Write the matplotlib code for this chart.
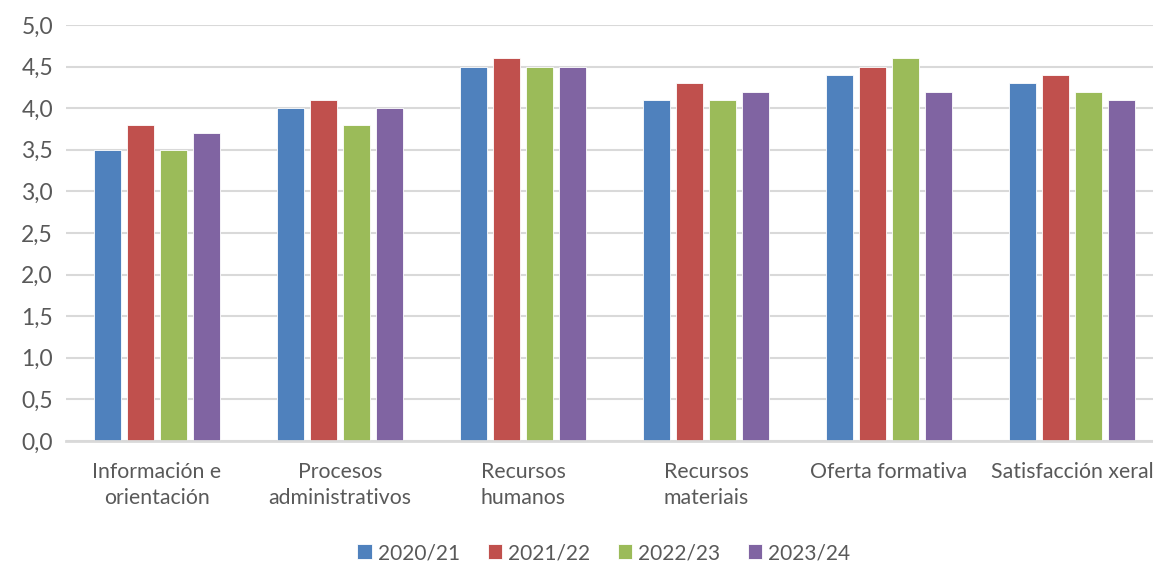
import matplotlib
matplotlib.use("Agg")
import matplotlib.pyplot as plt
import numpy as np

categories = ["Información e\norientación", "Procesos\nadministrativos", "Recursos\nhumanos",
              "Recursos\nmateriais", "Oferta formativa", "Satisfacción xeral"]
series = ["2020/21", "2021/22", "2022/23", "2023/24"]
values = {
    "2020/21": [3.5, 4.0, 4.5, 4.1, 4.4, 4.3],
    "2021/22": [3.8, 4.1, 4.6, 4.3, 4.5, 4.4],
    "2022/23": [3.5, 3.8, 4.5, 4.1, 4.6, 4.2],
    "2023/24": [3.7, 4.0, 4.5, 4.2, 4.2, 4.1],
}
colors = ["#4F81BD", "#C0504D", "#9BBB59", "#8064A2"]
yticks = [0.0, 0.5, 1.0, 1.5, 2.0, 2.5, 3.0, 3.5, 4.0, 4.5, 5.0]

plt.rcParams['font.family'] = ['Lato', 'DejaVu Sans']
txt = "#595959"

fig = plt.figure(figsize=(11.53, 5.64), dpi=100)
W, H = 1153, 564
left, right, top, bottom = 65.5, 1163.5, 25, 441
ax = fig.add_axes([left / W, 1 - bottom / H, (right - left) / W, (bottom - top) / H])

x = np.arange(len(categories))
pitch = 33 / 183
bw = 27 / 183
for i, s in enumerate(series):
    ax.bar(x + (i - 1.5) * pitch, values[s], width=bw, color=colors[i],
           edgecolor="white", linewidth=0.6, label=s, zorder=3)

ax.set_xlim(-0.5, len(categories) - 0.5)
ax.set_ylim(0, 5)
ax.set_yticks(yticks)
ax.set_yticklabels([f"{v:.1f}".replace(".", ",") for v in yticks], fontsize=16.5)
ax.set_xticks(x)
ax.set_xticklabels(categories, linespacing=1.4, fontsize=15.3)
ax.yaxis.grid(True, color="#D9D9D9", linewidth=1.5, zorder=0)
for sp in ["top", "right", "left"]:
    ax.spines[sp].set_visible(False)
ax.spines["bottom"].set_color("#D9D9D9")
ax.spines["bottom"].set_linewidth(2)
ax.spines["bottom"].set_zorder(4)
ax.tick_params(axis="both", length=0, labelcolor=txt)
ax.tick_params(axis="y", pad=9)
ax.tick_params(axis="x", pad=15)

leg = fig.legend(loc="center", bbox_to_anchor=(604 / W, 1 - 553 / H), ncol=4, frameon=False,
                 fontsize=15, handlelength=0.7, handleheight=0.7, handletextpad=0.3,
                 columnspacing=1.3)
for t in leg.get_texts():
    t.set_color(txt)

fig.savefig("out.png", dpi=100)
